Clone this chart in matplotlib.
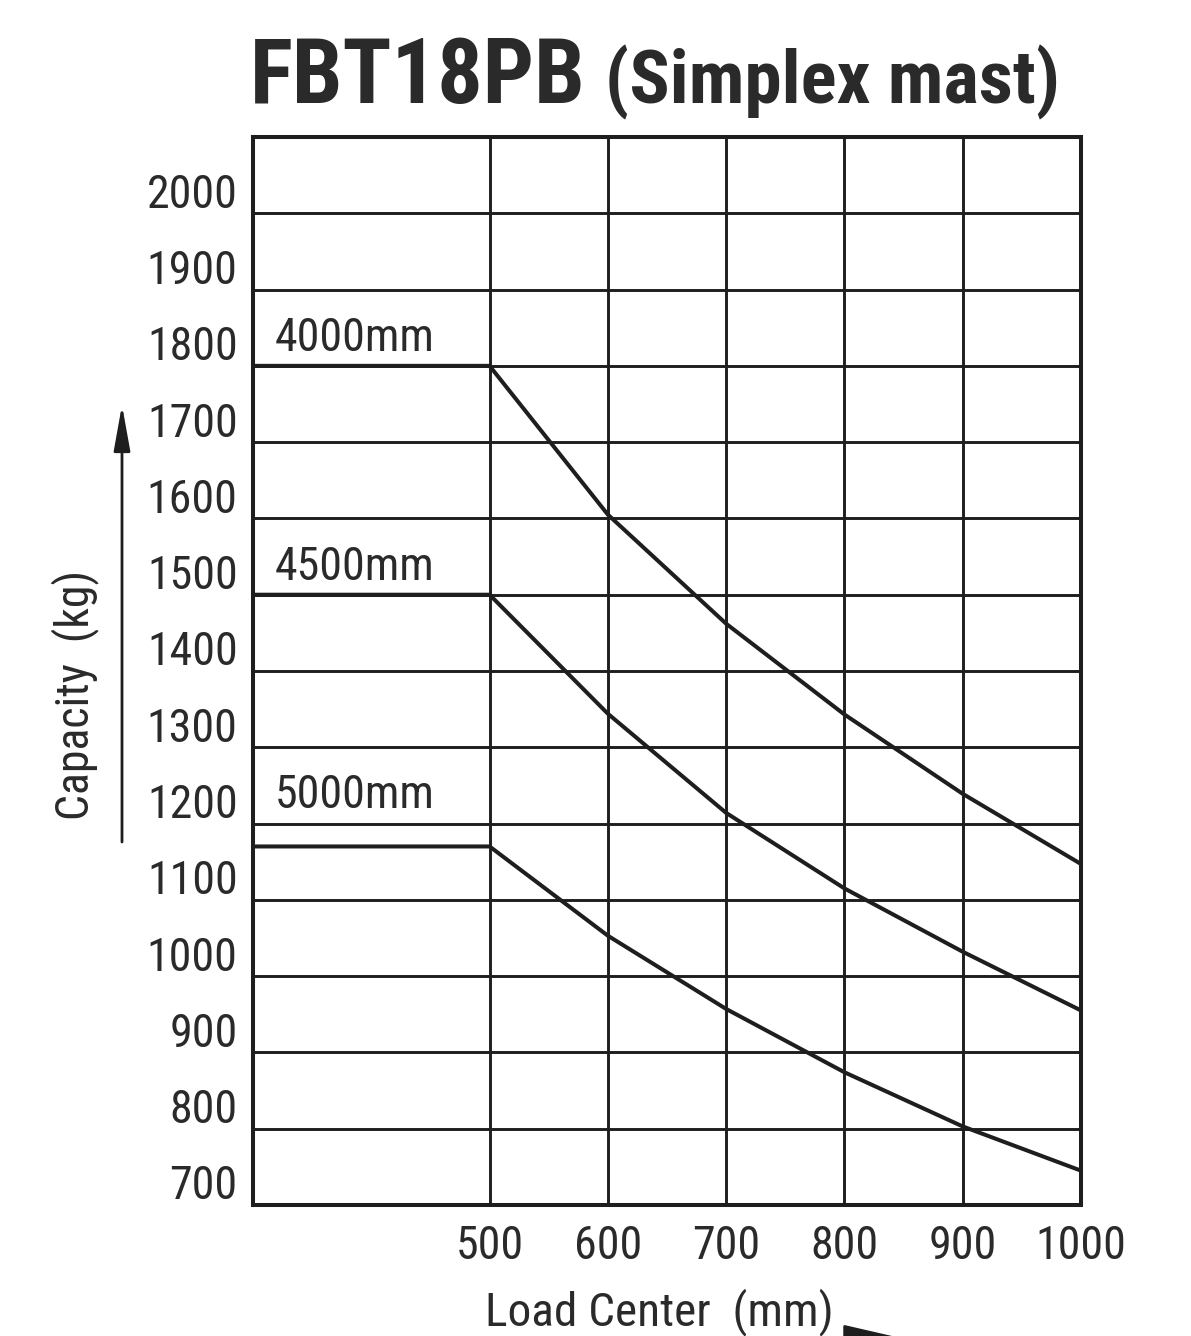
import matplotlib
matplotlib.use('Agg')
import matplotlib.pyplot as plt
from matplotlib import font_manager
from matplotlib.transforms import ScaledTranslation

# capacity chart data
load_center = [300, 500, 600, 700, 800, 900, 1000]
mast_labels = ['4000mm', '4500mm', '5000mm']
cap_4000 = [1800, 1800, 1605, 1462, 1343, 1239, 1147]
cap_4500 = [1500, 1500, 1344, 1214, 1115, 1032, 955]
cap_5000 = [1170, 1170, 1053, 957, 874, 803, 745]
x_ticks = [500, 600, 700, 800, 900, 1000]
y_ticks = list(range(700, 2001, 100))

# a narrow sans face if one is around, otherwise shrink Liberation Sans
names = {f.name for f in font_manager.fontManager.ttflist}
FONT, k = 'Liberation Sans', 0.85
for cand in ['Roboto Condensed', 'Archivo Narrow']:
    if cand in names:
        FONT, k = cand, 1.0
        break
plt.rcParams['font.family'] = [FONT, 'Liberation Sans', 'DejaVu Sans']

ink = '#1e1e1e'
txt = '#2a2a2a'
W, H = 1191, 1336

fig = plt.figure(figsize=(W / 100, H / 100), dpi=100)
ax = fig.add_axes([253 / W, 1 - 1205 / H, (1081 - 253) / W, (1205 - 137) / H])

for caps, lab in zip([cap_4000, cap_4500, cap_5000], mast_labels):
    ax.plot(load_center, caps, color=ink, linewidth=2.9, solid_joinstyle='round', zorder=3)
    # label sits on the gridline at or above the flat part
    ly = -(-caps[0] // 100) * 100
    ax.text(318, ly + 8, lab, fontsize=33 * k, color=txt, ha='left', va='bottom')

ax.set_xlim(300, 1000)
ax.set_ylim(700, 2100)
ax.set_xticks(x_ticks)
ax.set_yticks(y_ticks)
ax.set_xticklabels([str(v) for v in x_ticks], fontsize=33 * k, color=txt)
ax.set_yticklabels([str(v) for v in y_ticks], fontsize=33 * k, color=txt)
ax.tick_params(length=0)
ax.tick_params(axis='x', pad=14)
ax.tick_params(axis='y', pad=11)
off = ScaledTranslation(0, 4 / 72, fig.dpi_scale_trans)
for lbl in ax.get_yticklabels():
    lbl.set_va('baseline')
    lbl.set_transform(lbl.get_transform() + off)

ax.grid(True, color=ink, linewidth=2.1)
ax.set_axisbelow(True)
for s in ax.spines.values():
    s.set_linewidth(2.9)
    s.set_color(ink)

# title in two parts
fig.text(250 / W, 1 - 103 / H, 'FBT18PB', fontsize=65 * k, fontweight='bold', color=txt,
         ha='left', va='baseline')
fig.text(1060 / W, 1 - 103 / H, '(Simplex mast)', fontsize=54 * k, fontweight='bold', color=txt,
         ha='right', va='baseline')

# axis labels with arrows
fig.text(75 / W, 1 - 695 / H, 'Capacity  (kg)', fontsize=33 * k, color=txt, rotation=90,
         ha='center', va='center')
fig.text(485 / W, 1 - 1325 / H, 'Load Center  (mm)', fontsize=34 * k, color=txt,
         ha='left', va='baseline')
ax.annotate('', xy=(122 / W, 1 - 405 / H), xytext=(122 / W, 1 - 842 / H),
            xycoords='figure fraction', textcoords='figure fraction', annotation_clip=False,
            arrowprops=dict(arrowstyle='-|>,head_length=1.0,head_width=0.18', color=ink,
                            lw=2, shrinkA=0, shrinkB=0, mutation_scale=28))
ax.annotate('', xy=(905 / W, -3 / H), xytext=(485 / W, -3 / H),
            xycoords='figure fraction', textcoords='figure fraction', annotation_clip=False,
            arrowprops=dict(arrowstyle='-|>,head_length=1.3,head_width=0.3', color=ink,
                            lw=2, shrinkA=0, shrinkB=0, mutation_scale=30))

plt.savefig('out.png', dpi=100)
